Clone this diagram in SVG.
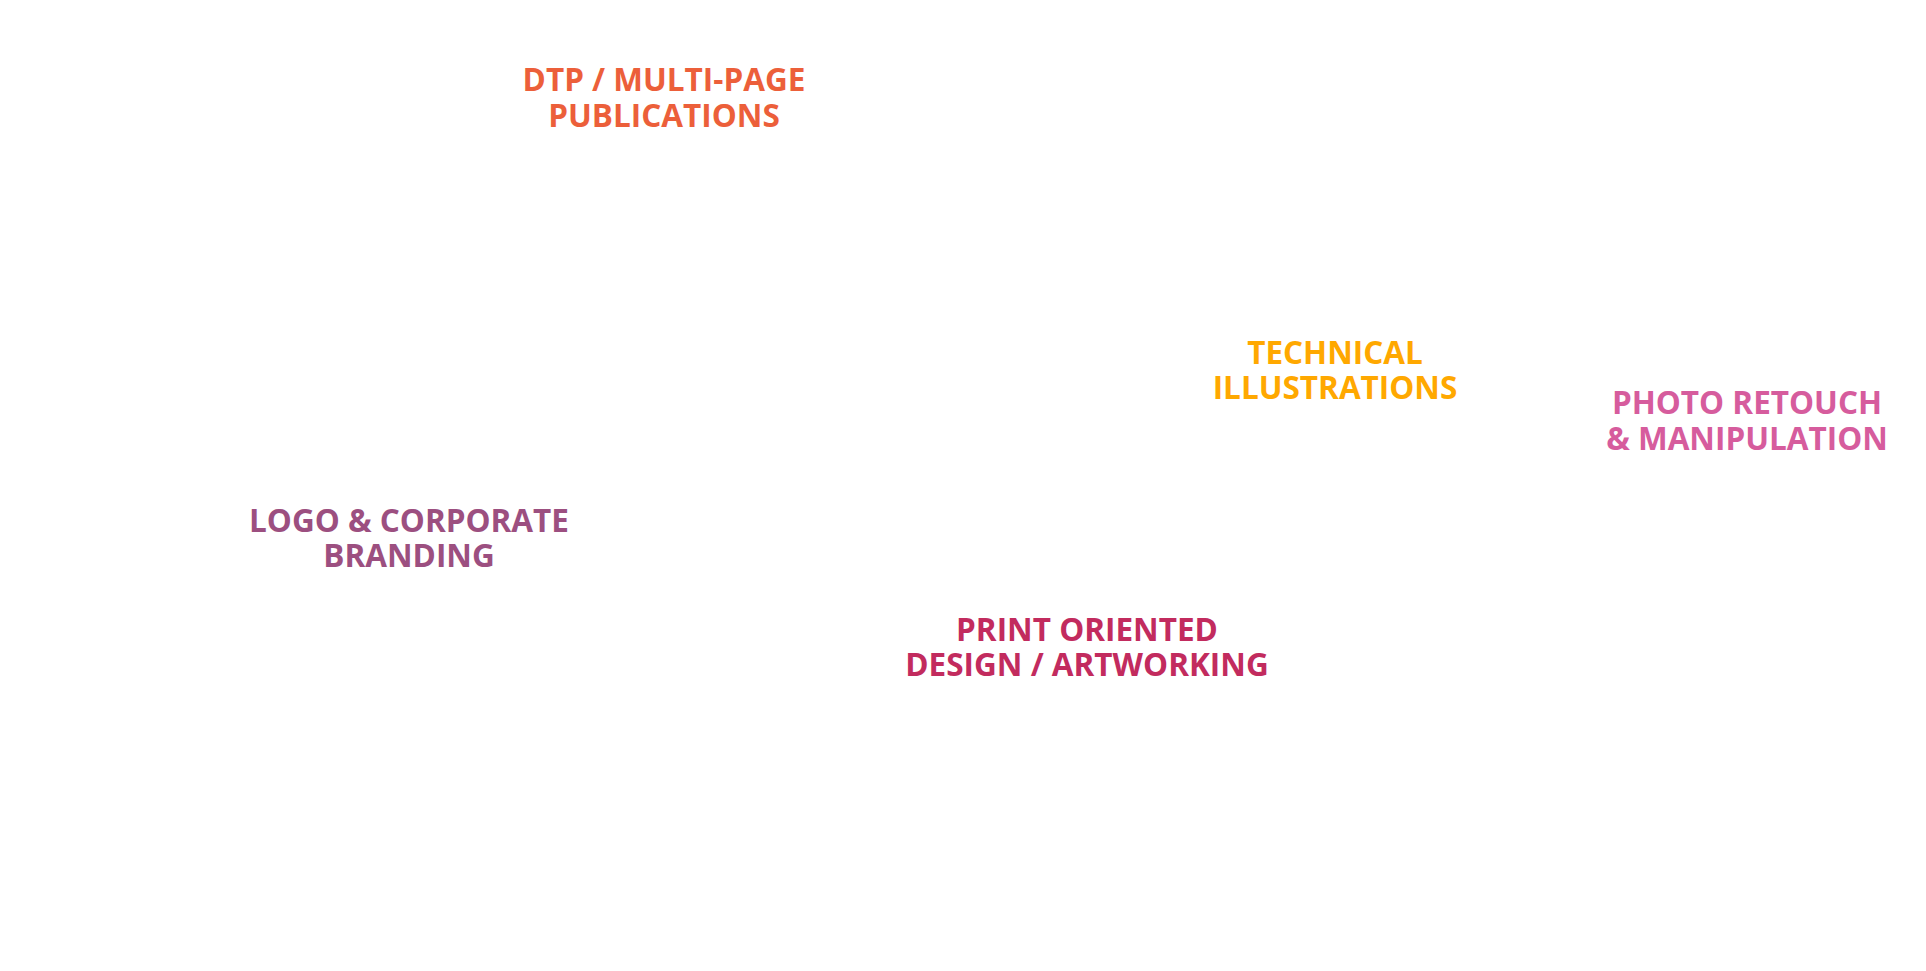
<svg xmlns="http://www.w3.org/2000/svg" width="1926" height="971" viewBox="0 0 1926 971">
<style>
text{font-family:"Open Sans","Noto Sans","Liberation Sans",sans-serif;font-weight:700;font-size:31.5px;text-anchor:middle}
.dtp{fill:#EC5F3A}.tech{fill:#FFA800}.photo{fill:#D65C9D}.logo{fill:#9C4F80}.print{fill:#C22B5E}
</style>
<rect width="1926" height="971" fill="#ffffff"/>
<g id="connectors"></g>
<g id="dtp"><text class="dtp" x="664" y="91">DTP / MULTI-PAGE</text><text class="dtp" x="664" y="127">PUBLICATIONS</text></g>
<g id="technical"><text class="tech" x="1335" y="364">TECHNICAL</text><text class="tech" x="1335" y="399">ILLUSTRATIONS</text></g>
<g id="photo"><text class="photo" x="1747" y="414">PHOTO RETOUCH</text><text class="photo" x="1747" y="450">&amp; MANIPULATION</text></g>
<g id="logo"><text class="logo" x="409" y="532">LOGO &amp; CORPORATE</text><text class="logo" x="409" y="567">BRANDING</text></g>
<g id="print"><text class="print" x="1087" y="641">PRINT ORIENTED</text><text class="print" x="1087" y="676">DESIGN / ARTWORKING</text></g>
</svg>
